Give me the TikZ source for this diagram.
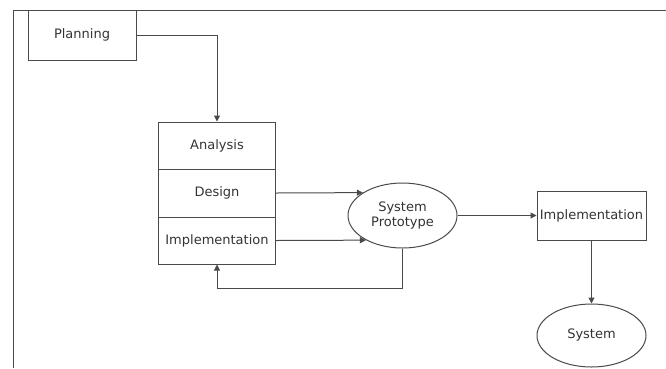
\documentclass[tikz,border=0pt]{standalone}
\usepackage{fontspec}
\setmainfont{DejaVu Sans}
\usetikzlibrary{arrows.meta,shapes.geometric}
\definecolor{ln}{HTML}{4A4A4A}
\definecolor{tx}{HTML}{333333}
\begin{document}
\begin{tikzpicture}[x=1pt,y=-1pt,
  every node/.style={font=\fontsize{13}{15}\selectfont, text=tx},
  box/.style={draw=ln, line width=1pt, rectangle, inner sep=0pt, minimum width=#1},
  box/.default=117pt,
  oval/.style={draw=ln, line width=1pt, ellipse, inner sep=0pt, minimum width=109pt},
  arr/.style={draw=ln, line width=1pt, -{Triangle[length=6pt,width=6pt]}},
  frame/.style={draw=ln, line width=1pt}]
\useasboundingbox (0,0) rectangle (666,368);
\coordinate (fbl) at (13,368);
\coordinate (ftl) at (13,10);
\coordinate (ftr) at (666,10);
\draw[frame] (fbl) -- (ftl) -- (ftr);
\node[box=108pt, minimum height=50pt] (planning) at (82,35) {Planning};
\node[box, minimum height=47pt] (analysis) at (217,145.5) {Analysis};
\node[box, minimum height=48pt] (design) at (217,193) {Design};
\node[box, minimum height=47pt] (impl1) at (217,240.5) {Implementation};
\node[oval, minimum height=65pt, align=center] (proto) at (402.5,215.5) {System\\Prototype};
\node[box=109pt, minimum height=49pt] (impl2) at (591.5,215.5) {Implementation};
\node[oval, minimum height=63pt] (system) at (591.5,335.5) {System};
\draw[arr] (planning.east) -| (analysis.north);
\draw[arr] (design.east) -- (proto.150.2);
\draw[arr] (impl1.east) -- (proto.214.4);
\draw[arr] (proto.east) -- (impl2.west);
\draw[arr] (proto.south) -- ++(0,40) -| (impl1.south);
\draw[arr] (impl2.south) -- (system.north);
\end{tikzpicture}
\end{document}
